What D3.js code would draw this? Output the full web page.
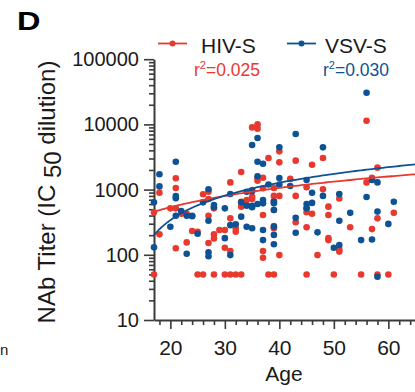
<!DOCTYPE html>
<html>
<head>
<meta charset="utf-8">
<script src="https://cdn.jsdelivr.net/npm/d3@7"></script>
<style>
  body { margin: 0; background: #fff; }
  svg { display: block; font-family: "Liberation Sans", Arial, sans-serif; }
</style>
</head>
<body>
<div id="chart"></div>
<script>
/* Panel D - NAb titer vs age, HIV-S and VSV-S pseudovirus */

// HIV-S titers [age, IC50]
const hivPoints = [
  [56, 11400], [35, 9000], [36, 10000], [36, 8600], [40, 3860], [38, 3050], [48, 3050],
  [40, 2620], [43, 2780], [46, 2410], [33, 1860], [58, 2170], [21, 1490], [36, 1490],
  [36, 1370], [37, 1520], [42, 1460], [31, 1290], [57, 1520], [56, 1290], [21, 1060],
  [45, 1085], [48, 1010], [37, 1050], [39, 1060],
  [18, 895], [20, 516], [21, 516], [22, 427], [23, 427], [17, 449], [18, 206], [21, 126],
  [23, 155], [24, 232], [25, 226], [26, 847], [27, 929], [27, 718], [27, 398], [28, 516],
  [28, 206], [28, 178], [27, 152], [35, 985], [35, 776], [35, 718], [33, 566], [39, 486],
  [33, 652], [34, 692], [33, 548], [34, 580], [37, 407], [39, 800], [39, 668], [31, 362],
  [30, 240], [29, 240], [32, 255], [32, 226], [30, 128], [31, 114], [37, 114], [37, 90],
  [40, 800], [43, 800], [51, 730], [45, 516], [45, 449], [46, 427], [49, 548], [49, 407],
  [43, 315], [45, 265], [49, 180], [49, 168], [51, 123], [51, 112], [47, 99], [40, 99],
  [39, 276], [39, 255], [53, 265], [57, 248], [58, 362], [61, 440],
  [17, 50], [25, 50], [26, 50], [28, 50], [30, 50], [31, 50], [32, 50], [33, 50],
  [38, 50], [39, 50], [45, 50], [50, 50], [55, 50], [58, 50], [60, 50]
];

// VSV-S titers [age, IC50]
const vsvPoints = [
  [56, 30600], [43, 7130], [36, 6180], [35, 4830], [40, 4450], [48, 4450], [21, 2680],
  [36, 2680], [37, 2490], [18, 1720], [36, 1600], [40, 1510], [45, 1400], [38, 1200],
  [40, 1200], [42, 1135], [57, 1400], [58, 1290], [18, 1120], [27, 1010],
  [21, 798], [21, 736], [17, 638], [22, 470], [23, 398], [24, 398], [21, 398], [26, 638],
  [28, 580], [28, 535], [27, 333], [31, 855], [34, 929], [37, 692], [37, 615], [33, 638],
  [34, 566], [35, 566], [36, 600], [39, 615], [35, 946], [35, 535], [30, 516], [33, 385],
  [32, 294], [31, 285], [34, 270], [35, 255], [30, 180], [31, 99], [37, 240], [37, 168],
  [39, 270], [39, 202], [39, 145], [17, 130], [20, 270], [23, 104], [25, 210], [27, 109],
  [24, 390], [27, 95], [46, 895], [48, 800], [51, 855], [45, 600], [46, 625], [43, 370],
  [51, 333], [43, 218], [47, 221], [50, 128], [51, 141], [56, 770], [61, 652], [53, 440],
  [58, 460], [60, 298], [55, 168], [57, 172], [58, 46], [39, 652], [39, 486], [45, 516]
];

// linear fits (titer = a + b * age)
const hivFit = { a: 10, b: 26.3, r2: '0.025' };
const vsvFit = { a: -594, b: 46.7, r2: '0.030' };

const xMajor = [20, 30, 40, 50, 60];
const yMajor = [10, 100, 1000, 10000, 100000];

const colors = { hiv: '#e8392f', vsv: '#0c5294', axis: '#3a3a3a', text: '#1a1a1a' };

function renderChart() {
  const width = 415, height = 392;

  const svg = d3.select('#chart')
    .append('svg')
    .attr('width', width)
    .attr('height', height);

  const x = d3.scaleLinear().domain([17, 65]).range([154, 415.6]);
  const y = d3.scaleLog().domain([10, 100000]).range([320, 59.2]);

  // minor ticks
  const xMinor = d3.range(18, 66, 2).filter(v => !xMajor.includes(v));
  const yMinor = [];
  yMajor.slice(0, -1).forEach(d => {
    for (let k = 2; k <= 9; k++) yMinor.push(d * k);
  });

  // X axis
  const gx = svg.append('g').attr('transform', 'translate(0,320)');
  gx.call(d3.axisBottom(x).tickValues(xMinor).tickSize(5).tickFormat(''));
  gx.call(g => g.select('.domain').remove());
  const gx2 = svg.append('g').attr('transform', 'translate(0,320)');
  gx2.call(d3.axisBottom(x).tickValues(xMajor).tickSize(9).tickPadding(11).tickSizeOuter(0));
  gx2.selectAll('text').attr('font-size', 21).attr('fill', colors.text);

  // Y axis
  const gy = svg.append('g').attr('transform', 'translate(154,0)');
  gy.call(d3.axisLeft(y).tickValues(yMinor).tickSize(5).tickFormat(''));
  gy.call(g => g.select('.domain').remove());
  const gy2 = svg.append('g').attr('transform', 'translate(154,0)');
  gy2.call(d3.axisLeft(y).tickValues(yMajor).tickSize(10).tickPadding(5)
    .tickFormat(d3.format('d')).tickSizeOuter(0));
  gy2.selectAll('text').attr('font-size', 20).attr('fill', colors.text);

  svg.selectAll('.tick line').attr('stroke', colors.axis).attr('stroke-width', 1.6);
  svg.selectAll('.domain').attr('stroke', colors.axis).attr('stroke-width', 2);
  svg.selectAll('g').attr('font-family', null);

  // points
  const series = [
    { pts: hivPoints, color: colors.hiv },
    { pts: vsvPoints, color: colors.vsv }
  ];
  series.forEach(s => {
    svg.append('g')
      .selectAll('circle')
      .data(s.pts)
      .join('circle')
      .attr('cx', d => x(d[0]))
      .attr('cy', d => y(d[1]))
      .attr('r', 3.3)
      .attr('fill', s.color);
  });

  // fit lines
  const ages = d3.range(17, 65.01, 0.5);
  const line = d3.line().x(d => x(d[0])).y(d => y(d[1]));
  [[hivFit, colors.hiv], [vsvFit, colors.vsv]].forEach(([f, c]) => {
    svg.append('path')
      .datum(ages.map(a => [a, f.a + f.b * a]))
      .attr('d', line)
      .attr('fill', 'none')
      .attr('stroke', c)
      .attr('stroke-width', 1.8);
  });

  // legend
  const legend = [
    { label: 'HIV-S', color: colors.hiv, fit: hivFit, lx: 158, tx: 201, rx: 194 },
    { label: 'VSV-S', color: colors.vsv, fit: vsvFit, lx: 287, tx: 325, rx: 323 }
  ];
  legend.forEach(l => {
    svg.append('line')
      .attr('x1', l.lx).attr('x2', l.lx + 29)
      .attr('y1', 43.5).attr('y2', 43.5)
      .attr('stroke', l.color).attr('stroke-width', 1.8);
    svg.append('circle')
      .attr('cx', l.lx + 14.5).attr('cy', 43.5).attr('r', 3)
      .attr('fill', l.color);
    svg.append('text')
      .attr('x', l.tx).attr('y', 52.5)
      .attr('font-size', 21).attr('fill', colors.text)
      .text(l.label);
    const r = svg.append('text')
      .attr('x', l.rx).attr('y', 76)
      .attr('font-size', 17.5).attr('fill', l.color);
    r.append('tspan').text('r');
    r.append('tspan').attr('font-size', 11).attr('dy', -7).text('2');
    r.append('tspan').attr('dy', 7).text('=' + l.fit.r2);
  });

  // axis titles
  svg.append('text')
    .attr('x', 284).attr('y', 381)
    .attr('text-anchor', 'middle')
    .attr('font-size', 21).attr('fill', colors.text)
    .text('Age');

  const yt = svg.append('text')
    .attr('transform', 'translate(55,192) rotate(-90)')
    .attr('text-anchor', 'middle')
    .attr('font-size', 24).attr('fill', colors.text);
  yt.append('tspan').text('NAb Titer (IC ');
  yt.append('tspan').attr('dy', 6).text('50');
  yt.append('tspan').attr('dy', -6).text(' dilution)');

  // panel letter
  svg.append('text')
    .attr('transform', 'translate(17,30) scale(1.25,1)')
    .attr('font-size', 26).attr('font-weight', 'bold').attr('fill', '#000')
    .text('D');

  // letter left over from the neighbouring panel
  svg.append('text')
    .attr('x', 0).attr('y', 355)
    .attr('font-size', 15).attr('fill', colors.text)
    .text('n');
}

document.addEventListener('DOMContentLoaded', renderChart);
</script>
</body>
</html>
